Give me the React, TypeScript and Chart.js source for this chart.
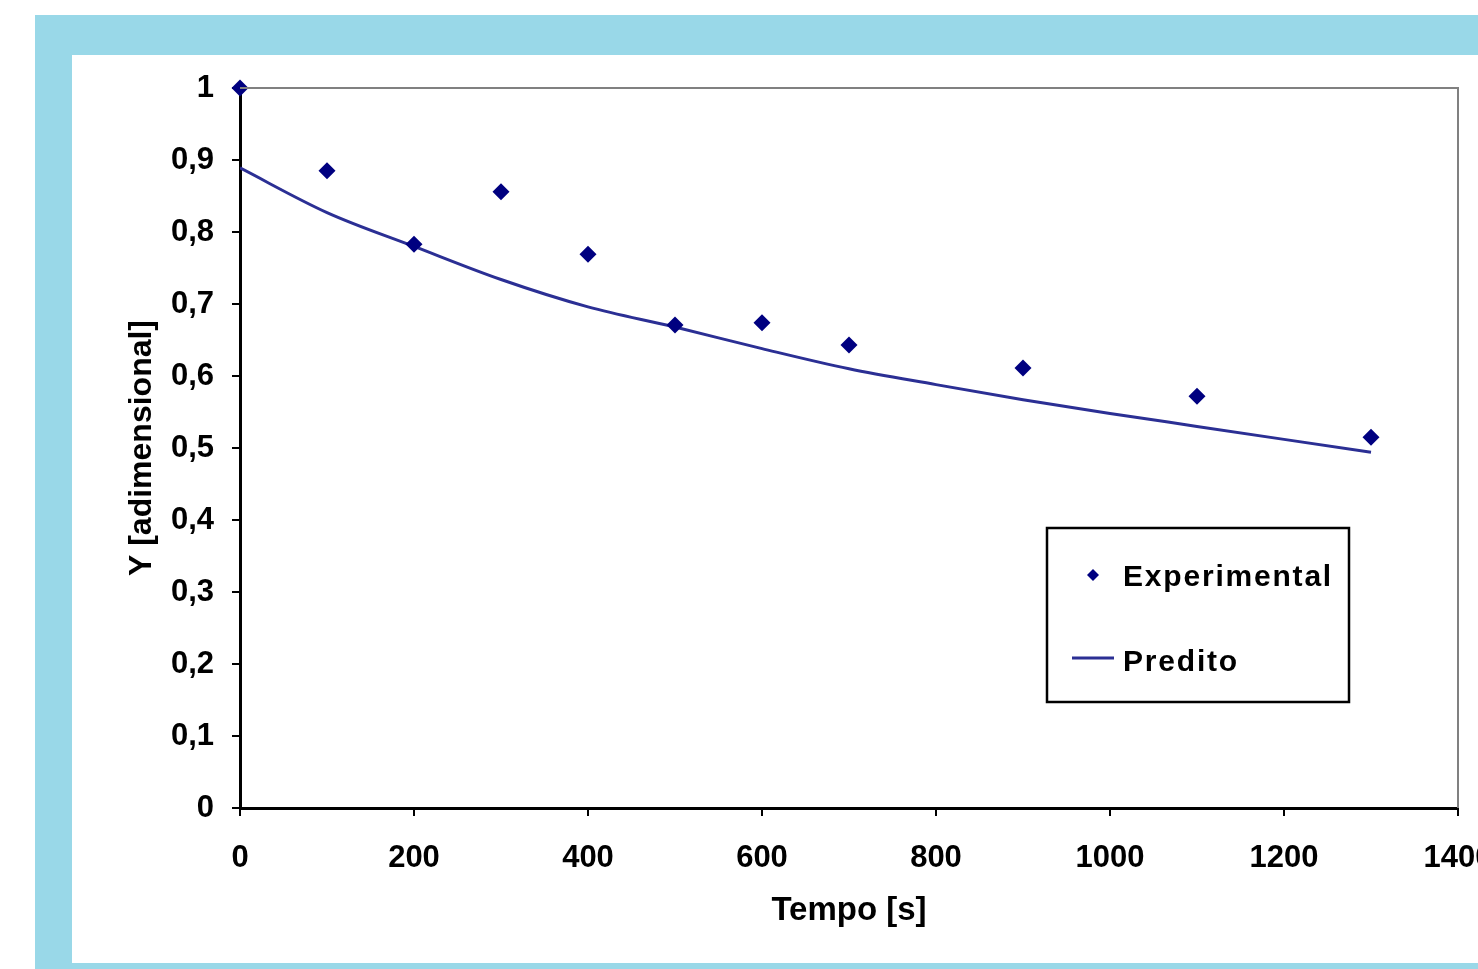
import React, { useEffect, useRef } from "react";
import { Chart, registerables } from "chart.js";

Chart.register(...registerables);

const tempoExp = [0, 100, 200, 300, 400, 500, 600, 700, 900, 1100, 1300];
const yExp = [1.0, 0.885, 0.783, 0.856, 0.769, 0.671, 0.674, 0.643, 0.611, 0.572, 0.515];
const tempoPred = [0, 100, 200, 300, 400, 500, 600, 700, 800, 900, 1000, 1100, 1200, 1300];
const yPred = [0.889, 0.827, 0.78, 0.734, 0.696, 0.668, 0.638, 0.61, 0.588, 0.567, 0.548, 0.53, 0.512, 0.494];
const seriesNames = ["Experimental", "Predito"];
const xTitle = "Tempo [s]";
const yTitle = "Y [adimensional]";

const FONT = "'Liberation Sans', Arial, sans-serif";
const MARKER = "#000080";
const LINE = "#2B2F94";

const fmt = (v: number) => {
  const r = Math.round(v * 10) / 10;
  return Number.isInteger(r) ? String(r) : r.toFixed(1).replace(".", ",");
};

const framePlugin = {
  id: "frameAndLegend",
  afterDraw(chart: any) {
    const { ctx, chartArea } = chart;
    ctx.save();
    // gray top & right frame
    ctx.strokeStyle = "#808080";
    ctx.lineWidth = 2;
    ctx.beginPath();
    ctx.moveTo(chartArea.left, chartArea.top);
    ctx.lineTo(chartArea.right, chartArea.top);
    ctx.lineTo(chartArea.right, chartArea.bottom);
    ctx.stroke();

    // legend box
    const bx = 975, by = 473, bw = 302, bh = 174;
    ctx.fillStyle = "#ffffff";
    ctx.fillRect(bx, by, bw, bh);
    ctx.strokeStyle = "#000";
    ctx.lineWidth = 2.5;
    ctx.strokeRect(bx, by, bw, bh);

    const ds0 = chart.data.datasets[0];
    const ds1 = chart.data.datasets[1];
    // diamond
    const cx = 1021, cy = 520, r = 6;
    ctx.fillStyle = ds0.backgroundColor;
    ctx.beginPath();
    ctx.moveTo(cx - r, cy);
    ctx.lineTo(cx, cy - r);
    ctx.lineTo(cx + r, cy);
    ctx.lineTo(cx, cy + r);
    ctx.closePath();
    ctx.fill();
    // line
    ctx.strokeStyle = ds1.borderColor;
    ctx.lineWidth = 3;
    ctx.beginPath();
    ctx.moveTo(1000, 603);
    ctx.lineTo(1042, 603);
    ctx.stroke();

    ctx.fillStyle = "#000";
    ctx.font = `bold 30px ${FONT}`;
    (ctx as any).letterSpacing = "1.8px";
    ctx.textBaseline = "middle";
    ctx.textAlign = "left";
    ctx.fillText(ds0.label, 1051, 523);
    ctx.fillText(ds1.label, 1051, 608);
    ctx.restore();
  },
};

export default function App() {
  const ref = useRef<HTMLCanvasElement>(null);
  useEffect(() => {
    if (!ref.current) return;
    const chart = new Chart(ref.current, {
      type: "scatter",
      data: {
        datasets: [
          {
            label: seriesNames[0],
            data: tempoExp.map((x, i) => ({ x, y: yExp[i] })),
            pointStyle: "rectRot",
            pointRadius: 8.5,
            backgroundColor: MARKER,
            borderColor: MARKER,
            borderWidth: 0,
            showLine: false,
            clip: false as any,
          },
          {
            label: seriesNames[1],
            data: tempoPred.map((x, i) => ({ x, y: yPred[i] })),
            showLine: true,
            pointRadius: 0,
            borderColor: LINE,
            backgroundColor: LINE,
            borderWidth: 3,
            cubicInterpolationMode: "monotone",
          },
        ],
      },
      options: {
        animation: false,
        responsive: false,
        devicePixelRatio: 1,
        layout: { padding: { top: 33, left: 0, right: 74, bottom: 0 } },
        plugins: { legend: { display: false }, tooltip: { enabled: false } },
        scales: {
          x: {
            type: "linear",
            min: 0,
            max: 1400,
            afterFit: (s: any) => {
              s.height = 155;
              s.paddingLeft = 0;
              s.paddingRight = 0;
            },
            ticks: {
              stepSize: 200,
              autoSkip: false,
              maxRotation: 0,
              padding: 24,
              color: "#000",
              font: { family: FONT, size: 31, weight: "bold" },
              callback: (v: any) => String(v),
            },
            grid: { drawOnChartArea: false, drawTicks: true, tickLength: 8, color: "#000", lineWidth: 2 },
            border: { display: true, color: "#000", width: 3 },
            title: {
              display: true,
              text: xTitle,
              color: "#000",
              font: { family: FONT, size: 33, weight: "bold" },
              padding: { top: 0, bottom: 32 },
            },
          },
          y: {
            type: "linear",
            min: 0,
            max: 1,
            afterFit: (s: any) => {
              s.width = 168;
              s.paddingTop = 0;
              s.paddingBottom = 0;
            },
            ticks: {
              stepSize: 0.1,
              autoSkip: false,
              padding: 18,
              color: "#000",
              font: { family: FONT, size: 31, weight: "bold" },
              callback: (v: any) => fmt(Number(v)),
            },
            grid: { drawOnChartArea: false, drawTicks: true, tickLength: 8, color: "#000", lineWidth: 2 },
            border: { display: true, color: "#000", width: 3 },
            title: {
              display: true,
              text: yTitle,
              color: "#000",
              font: { family: FONT, size: 32, weight: "bold" },
              padding: { top: 51, bottom: 0 },
            },
          },
        },
      },
      plugins: [framePlugin],
    } as any);
    return () => chart.destroy();
  }, []);

  return (
    <div style={{ position: "fixed", left: 0, top: 0, width: 1478, height: 969, overflow: "hidden", background: "#fff" }}>
      <div style={{ position: "absolute", left: 35, top: 15, right: 0, bottom: 0, background: "#99D8E8" }} />
      <div style={{ position: "absolute", left: 72, top: 55, width: 1460, height: 908, background: "#fff" }}>
        <canvas ref={ref} width={1460} height={908} style={{ display: "block", width: 1460, height: 908 }} />
      </div>
    </div>
  );
}
